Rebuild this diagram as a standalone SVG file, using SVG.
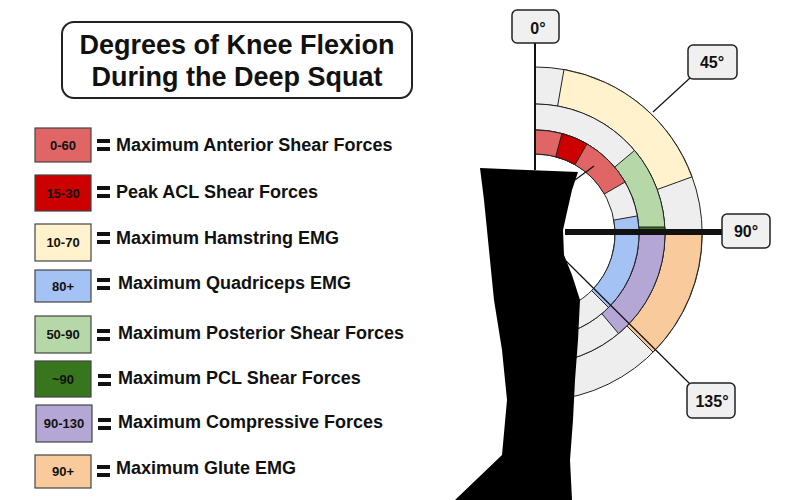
<svg xmlns="http://www.w3.org/2000/svg" width="800" height="500" viewBox="0 0 800 500">
<style>
text{font-family:"Liberation Sans",Arial,sans-serif;font-weight:bold;fill:#111}
.lb{font-size:13px;text-anchor:middle}
.lt{font-size:18px}
.sw{stroke:#444;stroke-width:1.2}
.seg{stroke:#222;stroke-width:1}
.box{fill:#f0f0f0;stroke:#222;stroke-width:1.5}
.deg{font-size:16px;text-anchor:middle}
</style>
<rect width="800" height="500" fill="#fff"/>
<g id="title"><rect x="62" y="22" width="350" height="76" rx="12" fill="#fff" stroke="#222" stroke-width="2"/>
<text x="237" y="54" font-size="27" text-anchor="middle">Degrees of Knee Flexion</text>
<text x="237" y="86" font-size="27" text-anchor="middle">During the Deep Squat</text></g>
<g id="legend">
<g id="l1"><rect class="sw" x="35" y="128" width="56" height="34" fill="#e06666"/><text class="lb" x="63" y="150">0-60</text><rect x="97" y="139" width="13" height="4" fill="#111"/><rect x="97" y="147" width="13" height="4" fill="#111"/><text class="lt" x="116" y="151">Maximum Anterior Shear Forces</text></g>
<g id="l2"><rect class="sw" x="35" y="175" width="56" height="36" fill="#cc0000"/><text class="lb" x="63" y="198">15-30</text><rect x="97" y="186" width="13" height="4" fill="#111"/><rect x="97" y="194" width="13" height="4" fill="#111"/><text class="lt" x="116" y="198">Peak ACL Shear Forces</text></g>
<g id="l3"><rect class="sw" x="35" y="224" width="56" height="37" fill="#fff2cc"/><text class="lb" x="63" y="247">10-70</text><rect x="97" y="232" width="13" height="4" fill="#111"/><rect x="97" y="240" width="13" height="4" fill="#111"/><text class="lt" x="116" y="244">Maximum Hamstring EMG</text></g>
<g id="l4"><rect class="sw" x="35" y="270" width="56" height="32" fill="#a4c2f4"/><text class="lb" x="63" y="291">80+</text><rect x="97" y="278" width="13" height="4" fill="#111"/><rect x="97" y="286" width="13" height="4" fill="#111"/><text class="lt" x="118" y="289">Maximum Quadriceps EMG</text></g>
<g id="l5"><rect class="sw" x="35" y="316" width="56" height="37" fill="#b6d7a8"/><text class="lb" x="63" y="339">50-90</text><rect x="97" y="329" width="13" height="4" fill="#111"/><rect x="97" y="337" width="13" height="4" fill="#111"/><text class="lt" x="118" y="339">Maximum Posterior Shear Forces</text></g>
<g id="l6"><rect class="sw" x="35" y="361" width="56" height="36" fill="#38761d"/><text class="lb" x="63" y="384">~90</text><rect x="98" y="374" width="13" height="4" fill="#111"/><rect x="98" y="382" width="13" height="4" fill="#111"/><text class="lt" x="118" y="384">Maximum PCL Shear Forces</text></g>
<g id="l7"><rect class="sw" x="36" y="405" width="56" height="37" fill="#b4a7d6"/><text class="lb" x="64" y="428">90-130</text><rect x="98" y="418" width="13" height="4" fill="#111"/><rect x="98" y="426" width="13" height="4" fill="#111"/><text class="lt" x="118" y="428">Maximum Compressive Forces</text></g>
<g id="l8"><rect class="sw" x="35" y="455" width="56" height="33" fill="#f9cb9c"/><text class="lb" x="63" y="476">90+</text><rect x="97" y="465" width="13" height="4" fill="#111"/><rect x="97" y="473" width="13" height="4" fill="#111"/><text class="lt" x="116" y="474">Maximum Glute EMG</text></g>
</g>
<g id="rings">
<path class="seg" fill="#eeeeee" d="M535,67 A167,167 0 0 1 564.0,398.5 L557.6,362.0 A130,130 0 0 0 535,104 Z"/>
<path class="seg" fill="#fff2cc" d="M564.0,69.5 A167,167 0 0 1 691.9,176.9 L657.2,189.5 A130,130 0 0 0 557.6,106.0 Z"/>
<path class="seg" fill="#f9cb9c" d="M702,234 A167,167 0 0 1 653.1,352.1 L626.9,325.9 A130,130 0 0 0 665,234 Z"/>
<path class="seg" fill="#eeeeee" d="M535,104 A130,130 0 0 1 557.6,362.0 L553.1,336.4 A104,104 0 0 0 535,130 Z"/>
<path class="seg" fill="#b6d7a8" d="M634.6,150.4 A130,130 0 0 1 665,234 L639,234 A104,104 0 0 0 614.7,167.1 Z"/>
<path class="seg" fill="#38761d" d="M664.9,227 L665,234 L639,234 L638.9,227 Z"/>
<path class="seg" fill="#b4a7d6" d="M665,234 A130,130 0 0 1 618.6,333.6 L601.8,313.7 A104,104 0 0 0 639,234 Z"/>
<path class="seg" fill="#eeeeee" d="M535,130 A104,104 0 0 1 553.1,336.4 L548.9,312.8 A80,80 0 0 0 535,154 Z"/>
<path class="seg" fill="#e06666" d="M535,130 A104,104 0 0 1 625.1,182.0 L604.3,194.0 A80,80 0 0 0 535,154 Z"/>
<path class="seg" fill="#cc0000" d="M561.9,133.5 A104,104 0 0 1 587.0,143.9 L575.0,164.7 A80,80 0 0 0 555.7,156.7 Z"/>
<path class="seg" fill="#a4c2f4" d="M637.4,215.9 A104,104 0 0 1 608.5,307.5 L591.6,290.6 A80,80 0 0 0 613.8,220.1 Z"/>
</g>
<g id="leg"><path fill="#000" d="M480,168 L578,172 L572,190 L567,212 L563,230 L564,255 L572,275 L580,300 L578,340 L575,380 L573,420 L570,460 L572,500 L455,500 L478,478 L502,455 L507,400 L502,350 L494,300 L488,240 L484,200 Z"/></g>
<g id="connectors" stroke="#111">
<line x1="535" y1="43" x2="535" y2="170" stroke-width="2"/>
<line x1="565" y1="232" x2="724" y2="232" stroke-width="6"/>
<line x1="653" y1="112" x2="690" y2="78" stroke-width="1.2"/>
<line x1="575" y1="180" x2="594" y2="166" stroke-width="1.2"/>
<line x1="565" y1="260" x2="690" y2="384" stroke-width="1.2"/>
</g>
<g id="labels">
<g id="d0"><rect class="box" x="512" y="10" width="47" height="33" rx="5"/><text class="deg" x="538" y="34">0°</text></g>
<g id="d45"><rect class="box" x="688" y="45" width="49" height="34" rx="5"/><text class="deg" x="712" y="68">45°</text></g>
<g id="d90"><rect class="box" x="722" y="214" width="48" height="34" rx="5"/><text class="deg" x="746" y="237">90°</text></g>
<g id="d135"><rect class="box" x="687" y="383" width="48" height="35" rx="5"/><text class="deg" x="712" y="407">135°</text></g>
</g>
</svg>
